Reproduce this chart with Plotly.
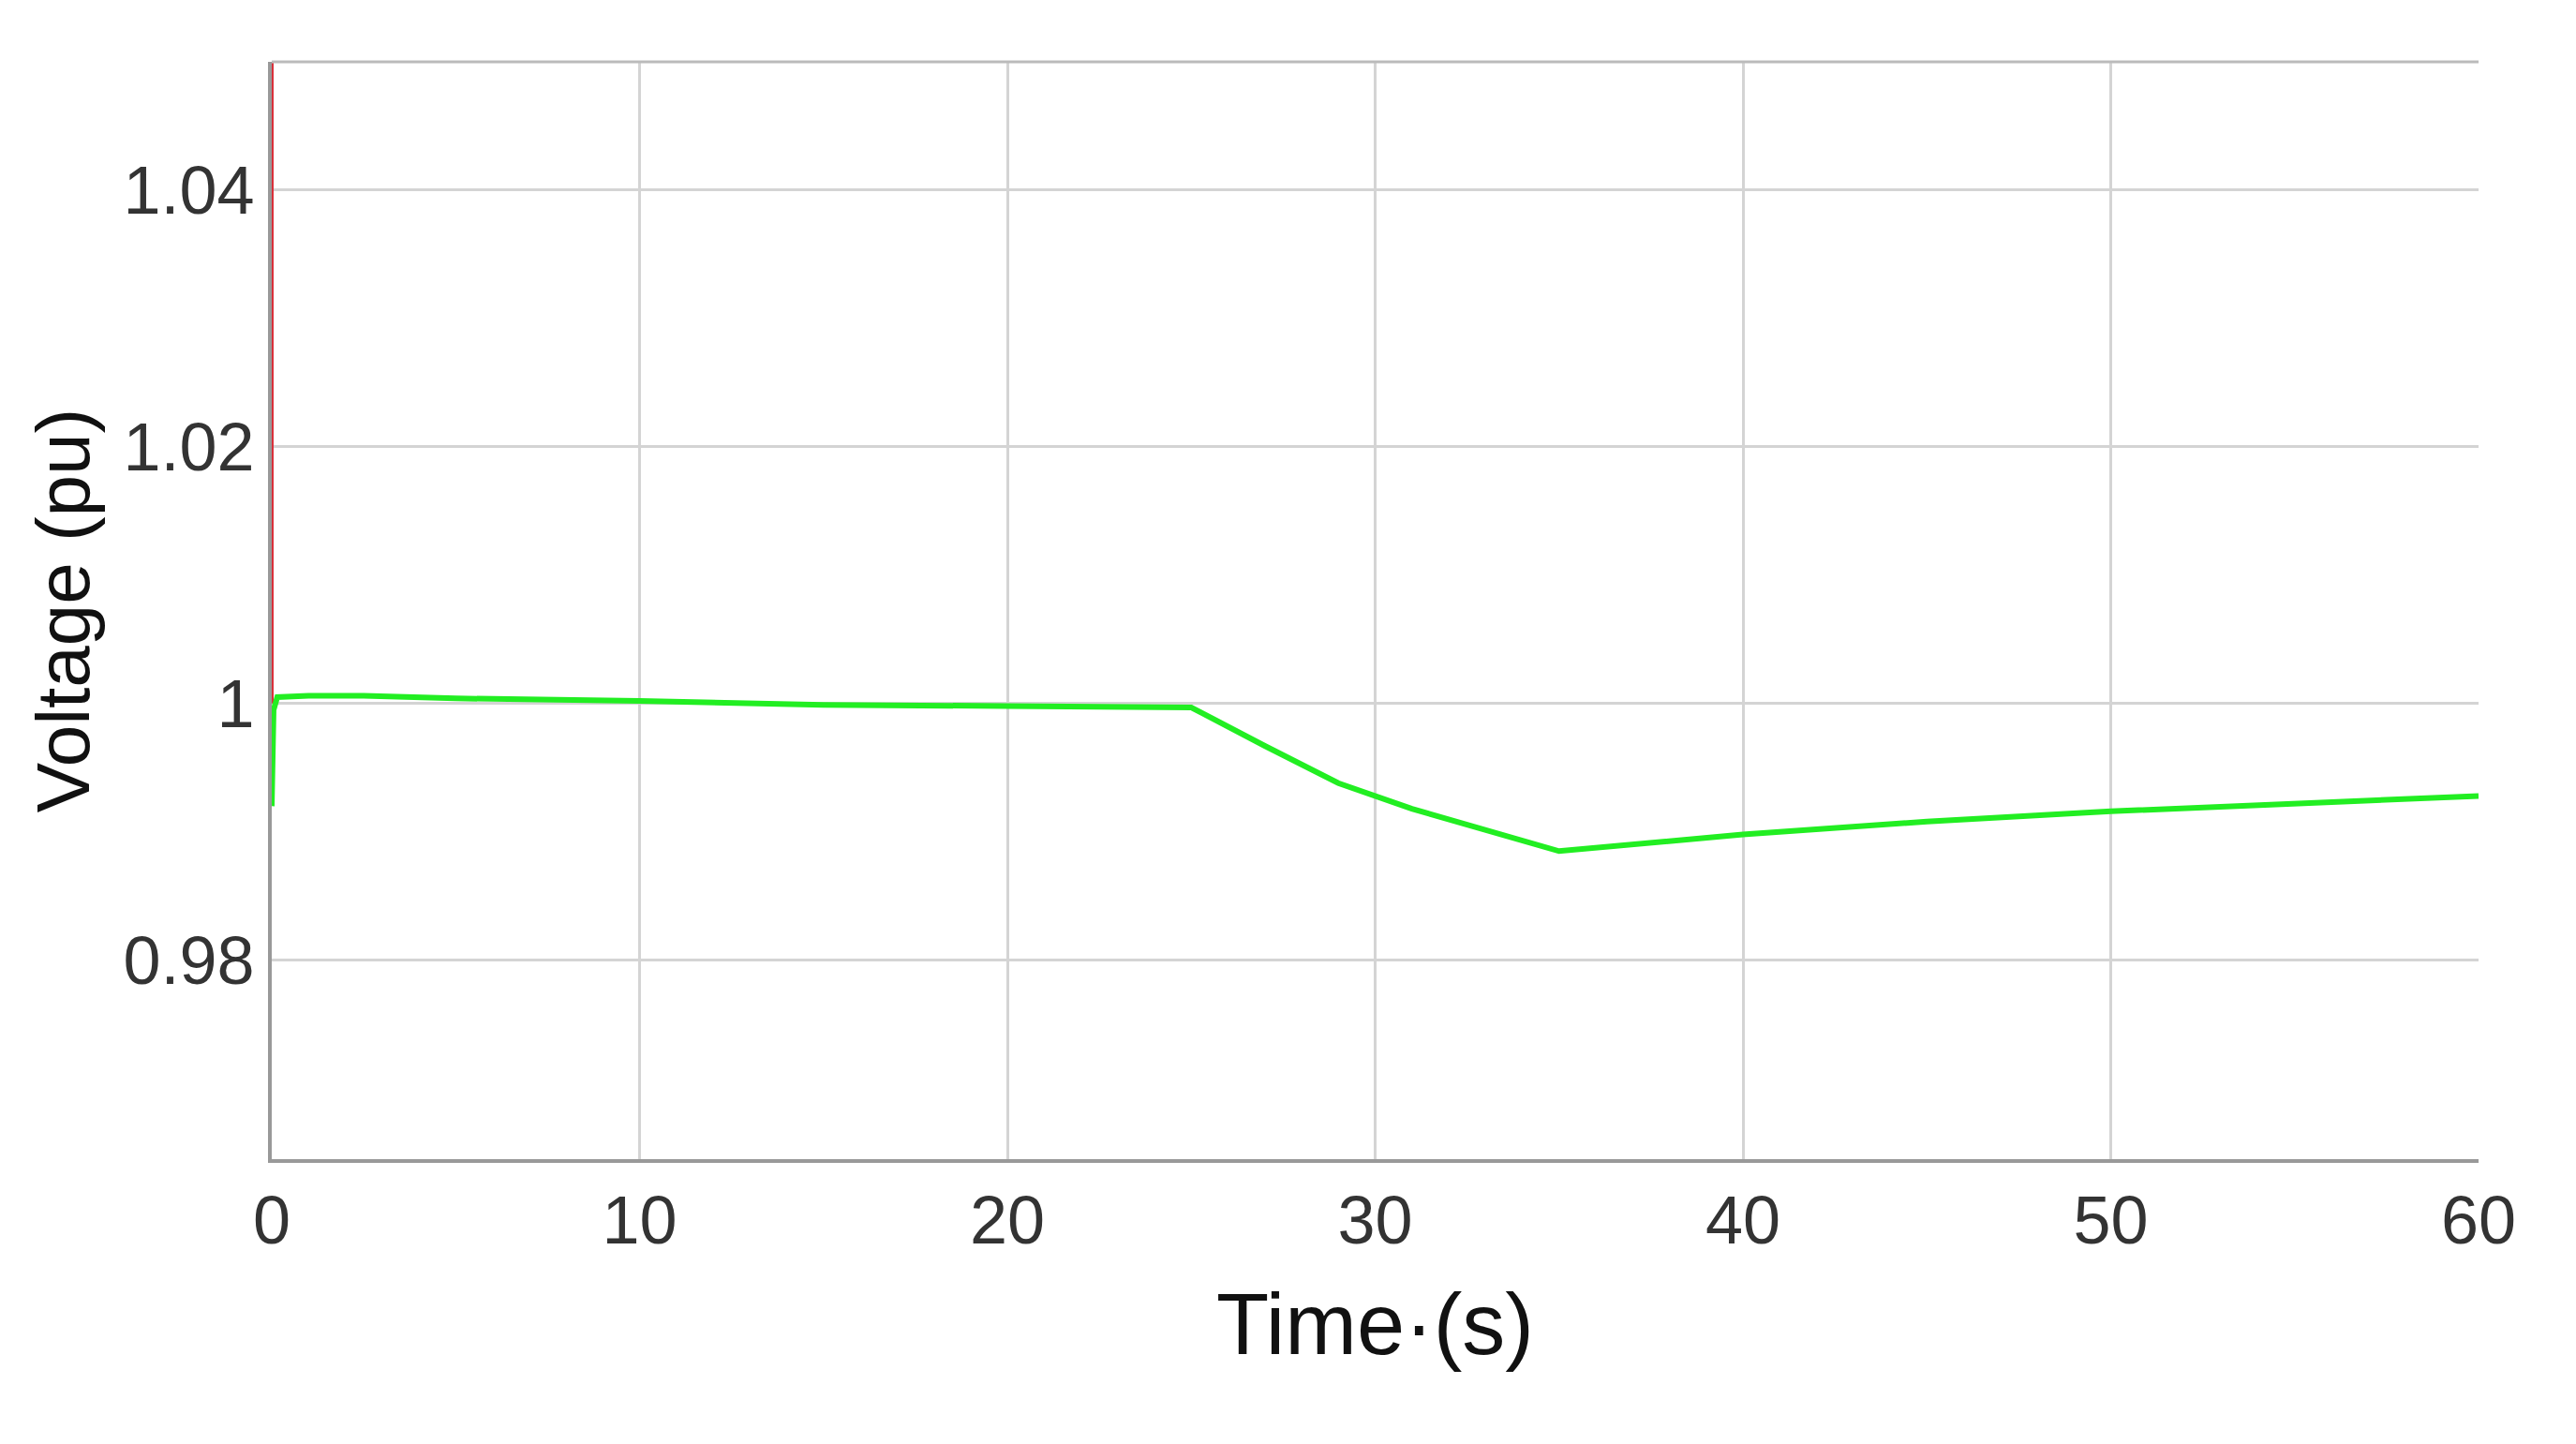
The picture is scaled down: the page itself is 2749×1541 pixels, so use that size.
import plotly.graph_objects as go

t_green = [0, 0.05, 0.15, 1, 2.5, 5, 10, 15, 20, 25, 27, 29, 31, 35, 40, 45, 50, 55, 60]
v_green = [0.992, 0.9995, 1.0005, 1.0006, 1.0006, 1.0004, 1.0002, 0.9999, 0.9998, 0.9997, 0.9967, 0.9938, 0.9918, 0.9885, 0.9898, 0.9908, 0.9916, 0.9922, 0.9928]
t_red = [0, 0]
v_red = [1.0, 1.06]

fig = go.Figure()
fig.add_trace(go.Scatter(x=t_red, y=v_red, mode="lines", line=dict(color="#d9303a", width=4), showlegend=False))
fig.add_trace(go.Scatter(x=t_green, y=v_green, mode="lines", line=dict(color="#22ee22", width=6), showlegend=False))

ax = dict(showline=True, linecolor="#999999", linewidth=4, gridcolor="#d4d4d4", gridwidth=3,
          zeroline=False, ticks="", tickfont=dict(family="Liberation Sans, Arial", size=72, color="#333333"))
fig.update_layout(
    width=2749, height=1541, plot_bgcolor="white", paper_bgcolor="white",
    margin=dict(l=282, r=112, t=58, b=312),
    xaxis=dict(ax, range=[0, 60], tickvals=[0, 10, 20, 30, 40, 50, 60], mirror=False,
               title=dict(text="Time·(s)", font=dict(family="Liberation Sans, Arial", size=92, color="#111111"), standoff=40)),
    yaxis=dict(ax, range=[0.9645, 1.05], tickvals=[0.98, 1.0, 1.02, 1.04], ticktext=["0.98", "1", "1.02", "1.04"],
               title=dict(text="Voltage (pu)", font=dict(family="Liberation Sans, Arial", size=80, color="#111111"), standoff=10)),
)
fig.add_shape(type="line", xref="paper", yref="paper", x0=0, x1=1, y0=1, y1=1, line=dict(color="#bbbbbb", width=3))
fig.write_html("out.html")
